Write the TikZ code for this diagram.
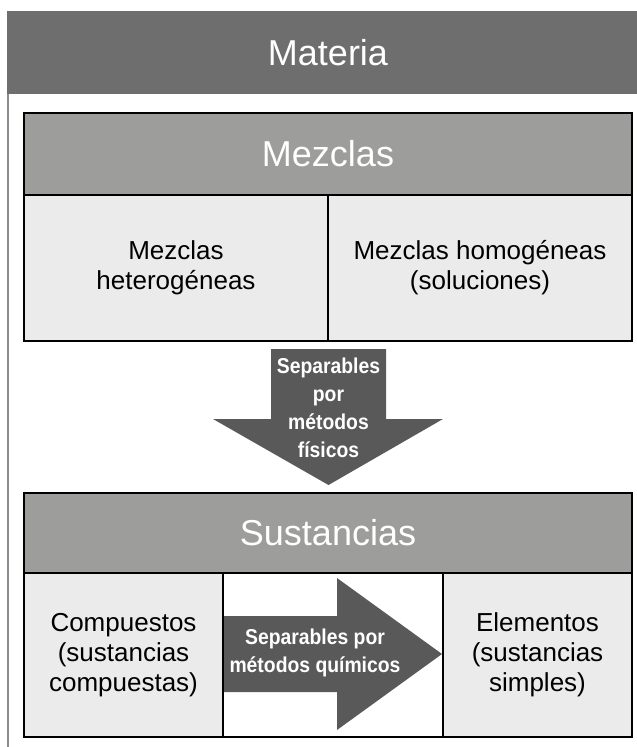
\documentclass[tikz,border=0pt]{standalone}
\usepackage{fontspec}
\setmainfont{Liberation Sans}
\newfontfamily\narrowfont[FakeStretch=0.9]{Liberation Sans}
\usetikzlibrary{positioning}
\definecolor{bargray}{HTML}{6E6E6E}
\definecolor{headgray}{HTML}{9D9D9B}
\definecolor{cellgray}{HTML}{EBEBEB}
\definecolor{arrowgray}{HTML}{595959}
\definecolor{framegray}{HTML}{8C8C8C}

\begin{document}
\begin{tikzpicture}[x=1pt,y=-1pt,
                   head/.style={fill=headgray,draw=black,line width=2pt,text=white,inner sep=0pt,outer sep=0pt,
                                font=\fontsize{36}{40}\selectfont},
                   cell/.style={fill=cellgray,draw=black,line width=2pt,align=center,inner sep=0pt,outer sep=0pt,
                                font=\fontsize{26}{30}\selectfont},
                   arrowtext/.style={text=white,align=center,inner sep=0pt,
                                font=\narrowfont\bfseries\fontsize{21.5}{28}\selectfont}]
\useasboundingbox (0,0) rectangle (637,747);
\node[fill=bargray,minimum width=630pt,minimum height=83pt,inner sep=0pt,outer sep=0pt,
      label={[text=white,xshift=6pt,font=\fontsize{36}{40}\selectfont]center:Materia}] (materia) at (322,52.5) {};
\draw[framegray,line width=2pt] (8,94) -- (8,747);

\node[head,minimum width=608pt,minimum height=82pt] (mezclas) at (328,154) {Mezclas};
\node[cell,minimum width=304pt,minimum height=146pt,below right=0pt of mezclas.south west] (hetero) {Mezclas\\heterogéneas};
\node[cell,minimum width=304pt,minimum height=146pt,right=0pt of hetero] (homo) {Mezclas homogéneas\\(soluciones)};

\fill[arrowgray] (271,349) -- (386,349) -- (386,419) -- (443,419) -- (328.5,485) -- (213,419) -- (271,419) -- cycle;
\node[arrowtext] (fisicos) at (328.5,408) {Separables\\por\\métodos\\físicos};

\node[head,minimum width=608pt,minimum height=80pt] (sustancias) at (328,533) {Sustancias};
\node[cell,minimum width=199pt,minimum height=164pt,below right=0pt of sustancias.south west] (compuestos) {Compuestos\\(sustancias\\compuestas)};
\node[cell,fill=white,minimum width=220pt,minimum height=164pt,right=0pt of compuestos] (hueco) {};
\node[cell,minimum width=189pt,minimum height=164pt,right=0pt of hueco] (elementos) {Elementos\\(sustancias\\simples)};

\fill[arrowgray] (224,616) -- (337,616) -- (337,578) -- (442,654) -- (337,730) -- (337,692) -- (224,692) -- cycle;
\node[arrowtext] (quimicos) at (315,653) {Separables por\\métodos químicos};
\end{tikzpicture}
\end{document}
